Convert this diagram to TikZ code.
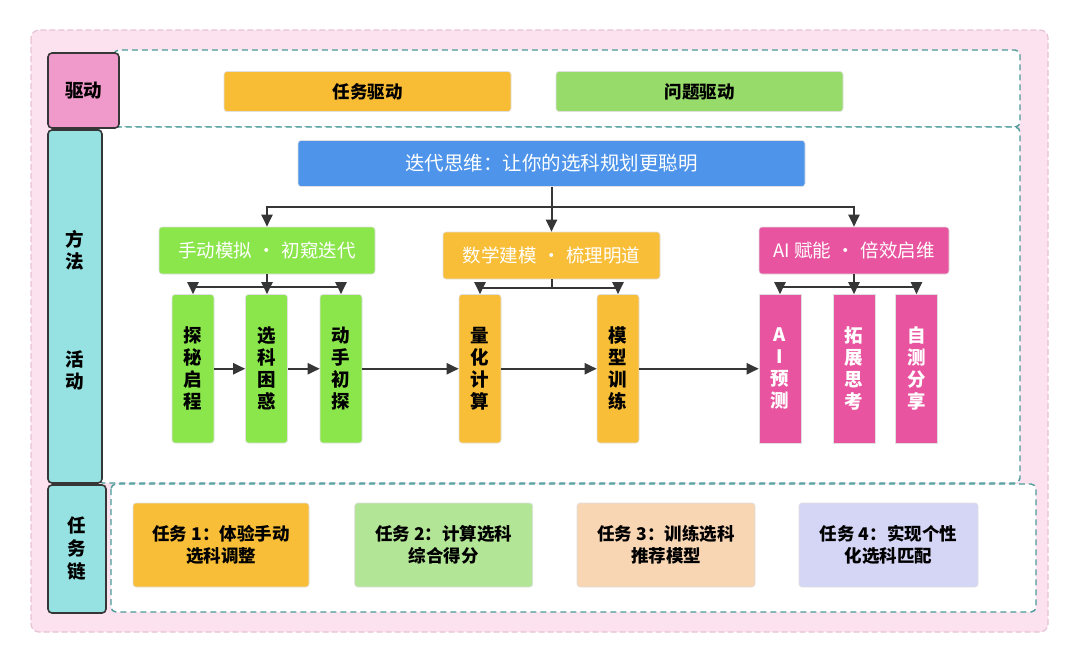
\documentclass[tikz,border=0pt]{standalone}
\usepackage{fontspec}
\setmainfont{Noto Sans CJK SC}
\usetikzlibrary{arrows.meta}
\definecolor{bgpink}{HTML}{FCE1EE}
\definecolor{bgpinkline}{HTML}{E6C3D3}
\definecolor{dteal}{HTML}{4B9B9A}
\definecolor{lblpink}{HTML}{F09ACB}
\definecolor{lblteal}{HTML}{96E1E1}
\definecolor{topor}{HTML}{F8BD35}
\definecolor{topgr}{HTML}{97DB6A}
\definecolor{tblue}{HTML}{4D94EA}
\definecolor{bgreen}{HTML}{8BE64C}
\definecolor{borange}{HTML}{F8BE38}
\definecolor{bpink}{HTML}{E8549F}
\definecolor{t2green}{HTML}{B3E596}
\definecolor{t3peach}{HTML}{F8D5B3}
\definecolor{t4lav}{HTML}{D5D6F6}
\definecolor{lnc}{HTML}{363636}
\tikzset{
  zone/.style={draw=dteal, line width=1.4pt, dash pattern=on 6pt off 4pt, fill=white, rounded corners=5pt},
  lbl/.style={draw=lnc, line width=1.6pt, rounded corners=4pt, inner sep=0pt, font=\bfseries\fontsize{18.5}{23}\selectfont, align=center},
  box/.style={rounded corners=3pt, inner sep=0pt, align=center, draw=black!12, line width=0.6pt},
  vbox/.style={box, minimum width=42pt, minimum height=148.5pt, font=\bfseries\fontsize{18.5}{22}\selectfont},
  ln/.style={draw=lnc, line width=2pt},
  arr/.style={ln, -{Triangle[length=12pt,width=11pt]}},
  tk/.style={box, minimum height=84pt, font=\bfseries\fontsize{17.5}{22}\selectfont}
}
\newcommand{\dotsep}{\hspace{0.3em}·\hspace{0.3em}}
\begin{document}
\begin{tikzpicture}[x=1pt,y=-1pt]
\useasboundingbox (0,0) rectangle (1080,664);
% outer background
\draw[fill=bgpink, draw=bgpinkline, line width=1.2pt, dash pattern=on 6pt off 3pt, rounded corners=8pt] (31,30) rectangle (1048,632);
% zones
\draw[zone] (114,50) rectangle (1020,127);
\draw[zone] (98,127) rectangle (1020,483);
\draw[zone] (111,484) rectangle (1036,612);
% labels
\node[lbl, fill=lblpink, minimum width=71pt, minimum height=75pt] (L1) at (83.5,90.5) {驱动};
\node[lbl, fill=lblteal, minimum width=54pt, minimum height=353pt] (L2) at (75,306.5) {};
\node[font=\bfseries\fontsize{18.5}{22}\selectfont, align=center] (L2a) at (75,250) {方\\法};
\node[font=\bfseries\fontsize{18.5}{22}\selectfont, align=center] (L2b) at (75,370) {活\\动};
\node[lbl, fill=lblteal, minimum width=58pt, minimum height=128pt] (L3) at (77,549) {任\\务\\链};
% drive boxes
\node[box, fill=topor, minimum width=287pt, minimum height=40pt, font=\bfseries\fontsize{17.5}{20}\selectfont] (d1) at (367.5,91.5) {任务驱动};
\node[box, fill=topgr, minimum width=287pt, minimum height=40pt, font=\bfseries\fontsize{17.5}{20}\selectfont] (d2) at (699.5,91.5) {问题驱动};
% title
\node[box, fill=tblue, text=white, minimum width=507pt, minimum height=46pt, font=\fontsize{19.5}{22}\selectfont] (T) at (551.5,163.5) {迭代思维：让你的选科规划更聪明};
% middle level
\node[box, fill=bgreen, text=white, minimum width=216pt, minimum height=47pt, font=\fontsize{18.5}{22}\selectfont] (mg) at (267,250.5) {手动模拟\dotsep 初窥迭代};
\node[box, fill=borange, text=white, minimum width=217pt, minimum height=47pt, font=\fontsize{18.5}{22}\selectfont] (mo) at (551.5,255.5) {数学建模\dotsep 梳理明道};
\node[box, fill=bpink, text=white, minimum width=190pt, minimum height=47pt, font=\fontsize{18.5}{22}\selectfont] (mp) at (854,250.5) {AI 赋能\dotsep 倍效启维};
% vertical boxes
\node[vbox, fill=bgreen] (v1) at (193,368.75) {探\\秘\\启\\程};
\node[vbox, fill=bgreen] (v2) at (266.5,368.75) {选\\科\\困\\惑};
\node[vbox, fill=bgreen] (v3) at (341,368.75) {动\\手\\初\\探};
\node[vbox, fill=borange] (v4) at (480,368.75) {量\\化\\计\\算};
\node[vbox, fill=borange] (v5) at (618,368.75) {模\\型\\训\\练};
\node[vbox, fill=bpink, text=white, rounded corners=0pt] (v6) at (780,368.75) {A\\I\\预\\测};
\node[vbox, fill=bpink, text=white, rounded corners=0pt] (v7) at (854,368.75) {拓\\展\\思\\考};
\node[vbox, fill=bpink, text=white, rounded corners=0pt] (v8) at (916.5,368.75) {自\\测\\分\\享};
% task chain
\node[tk, fill=borange, minimum width=176pt] (k1) at (221,545) {任务 1：体验手动\\选科调整};
\node[tk, fill=t2green, minimum width=178pt] (k2) at (443.7,545) {任务 2：计算选科\\综合得分};
\node[tk, fill=t3peach, minimum width=178pt] (k3) at (666,545) {任务 3：训练选科\\推荐模型};
\node[tk, fill=t4lav, minimum width=179pt] (k4) at (888.5,545) {任务 4：实现个性\\化选科匹配};
% connectors from title
\coordinate (bj) at (551.5,207);
\draw[ln] (T.south) -- (bj);
\draw[arr] (bj) -| (mg.north);
\draw[arr] (bj) -- (mo.north);
\draw[arr] (bj) -| (mp.north);
% green branch
\coordinate (gj) at (267,287);
\draw[ln] (mg.south) -- (gj);
\draw[arr] (gj) -| (v1.north);
\draw[arr] (gj) -- (v2.north -| gj);
\draw[arr] (gj) -| (v3.north);
% orange branch
\coordinate (oj) at (551.5,288);
\draw[ln] (mo.south) -- (oj);
\draw[arr] (oj) -| (v4.north);
\draw[arr] (oj) -| (v5.north);
% pink branch
\coordinate (pj) at (854,287);
\draw[ln] (mp.south) -- (pj);
\draw[arr] (pj) -| (v6.north);
\draw[arr] (pj) -- (v7.north);
\draw[arr] (pj) -| (v8.north);
% horizontal flow
\draw[arr] (v1.east) -- (v2.west);
\draw[arr] (v2.east) -- (v3.west);
\draw[arr] (v3.east) -- (v4.west);
\draw[arr] (v4.east) -- (v5.west);
\draw[arr] (v5.east) -- (v6.west);
\end{tikzpicture}
\end{document}
